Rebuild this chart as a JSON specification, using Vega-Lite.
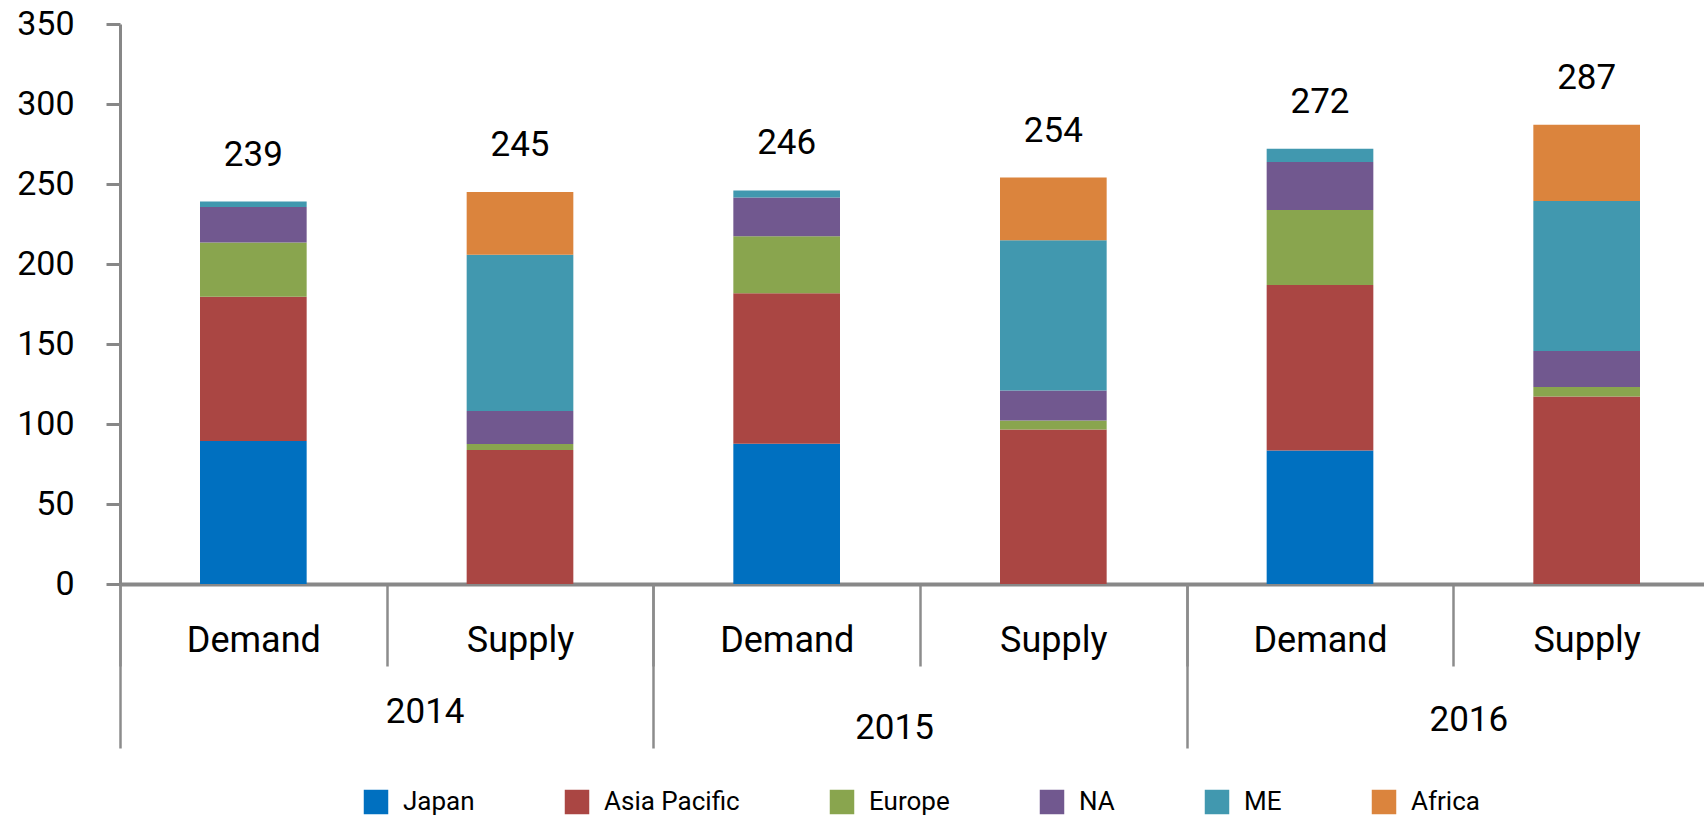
{
  "$schema": "https://vega.github.io/schema/vega-lite/v6.json",
  "width": 1600,
  "height": 560,
  "autosize": {"type": "none"},
  "padding": {"left": 120, "top": 24, "right": -16, "bottom": 233},
  "background": "white",
  "config": {
    "view": {"stroke": null},
    "font": "Roboto",
    "axis": {"grid": false, "labelColor": "black", "labelFont": "Roboto"},
    "legend": {"labelFont": "Roboto"},
    "text": {"font": "Roboto"}
  },
  "data": {
    "values": [
      {"year": "2014", "type": "Demand", "key": "2014 Demand", "region": "Japan", "value": 89.4},
      {"year": "2014", "type": "Demand", "key": "2014 Demand", "region": "Asia Pacific", "value": 90.1},
      {"year": "2014", "type": "Demand", "key": "2014 Demand", "region": "Europe", "value": 33.9},
      {"year": "2014", "type": "Demand", "key": "2014 Demand", "region": "NA", "value": 22.3},
      {"year": "2014", "type": "Demand", "key": "2014 Demand", "region": "ME", "value": 3.3},
      {"year": "2014", "type": "Supply", "key": "2014 Supply", "region": "Asia Pacific", "value": 83.7},
      {"year": "2014", "type": "Supply", "key": "2014 Supply", "region": "Europe", "value": 3.8},
      {"year": "2014", "type": "Supply", "key": "2014 Supply", "region": "NA", "value": 20.6},
      {"year": "2014", "type": "Supply", "key": "2014 Supply", "region": "ME", "value": 97.7},
      {"year": "2014", "type": "Supply", "key": "2014 Supply", "region": "Africa", "value": 39.2},
      {"year": "2015", "type": "Demand", "key": "2015 Demand", "region": "Japan", "value": 87.6},
      {"year": "2015", "type": "Demand", "key": "2015 Demand", "region": "Asia Pacific", "value": 94.1},
      {"year": "2015", "type": "Demand", "key": "2015 Demand", "region": "Europe", "value": 35.7},
      {"year": "2015", "type": "Demand", "key": "2015 Demand", "region": "NA", "value": 24.1},
      {"year": "2015", "type": "Demand", "key": "2015 Demand", "region": "ME", "value": 4.5},
      {"year": "2015", "type": "Supply", "key": "2015 Supply", "region": "Asia Pacific", "value": 96.6},
      {"year": "2015", "type": "Supply", "key": "2015 Supply", "region": "Europe", "value": 5.6},
      {"year": "2015", "type": "Supply", "key": "2015 Supply", "region": "NA", "value": 18.8},
      {"year": "2015", "type": "Supply", "key": "2015 Supply", "region": "ME", "value": 93.8},
      {"year": "2015", "type": "Supply", "key": "2015 Supply", "region": "Africa", "value": 39.2},
      {"year": "2016", "type": "Demand", "key": "2016 Demand", "region": "Japan", "value": 83.5},
      {"year": "2016", "type": "Demand", "key": "2016 Demand", "region": "Asia Pacific", "value": 103.3},
      {"year": "2016", "type": "Demand", "key": "2016 Demand", "region": "Europe", "value": 47.0},
      {"year": "2016", "type": "Demand", "key": "2016 Demand", "region": "NA", "value": 29.9},
      {"year": "2016", "type": "Demand", "key": "2016 Demand", "region": "ME", "value": 8.3},
      {"year": "2016", "type": "Supply", "key": "2016 Supply", "region": "Asia Pacific", "value": 117.2},
      {"year": "2016", "type": "Supply", "key": "2016 Supply", "region": "Europe", "value": 6.0},
      {"year": "2016", "type": "Supply", "key": "2016 Supply", "region": "NA", "value": 22.4},
      {"year": "2016", "type": "Supply", "key": "2016 Supply", "region": "ME", "value": 93.8},
      {"year": "2016", "type": "Supply", "key": "2016 Supply", "region": "Africa", "value": 47.6}
    ]
  },
  "layer": [
    {
      "layer": [
        {
          "transform": [
            {"calculate": "indexof(['Japan','Asia Pacific','Europe','NA','ME','Africa'], datum.region)", "as": "rank"}
          ],
          "mark": {"type": "bar", "width": {"band": 0.4}},
          "encoding": {
            "x": {
              "field": "key",
              "type": "nominal",
              "sort": ["2014 Demand", "2014 Supply", "2015 Demand", "2015 Supply", "2016 Demand", "2016 Supply"],
              "scale": {"paddingInner": 0, "paddingOuter": 0},
              "axis": {
                "orient": "bottom",
                "title": null,
                "labelExpr": "split(datum.label, ' ')[1]",
                "tickBand": "extent",
                "tickSize": 82,
                "tickWidth": 2.5,
                "tickColor": "#8c8c8c",
                "domainColor": "#888888",
                "domainWidth": 4,
                "labelFontSize": 36,
                "labelPadding": -43,
                "labelAngle": 0,
                "labelColor": "black"
              }
            },
            "y": {
              "field": "value",
              "type": "quantitative",
              "stack": "zero",
              "scale": {"domain": [0, 350], "nice": false},
              "axis": {
                "title": null,
                "values": [0, 50, 100, 150, 200, 250, 300, 350],
                "domainColor": "#878787",
                "domainWidth": 3,
                "tickColor": "#878787",
                "tickWidth": 3,
                "tickSize": 14,
                "labelFontSize": 34,
                "labelPadding": 32,
                "labelColor": "black",
                "grid": false
              }
            },
            "order": {"field": "rank", "type": "quantitative", "sort": "ascending"},
            "color": {
              "field": "region",
              "type": "nominal",
              "sort": ["Japan", "Asia Pacific", "Europe", "NA", "ME", "Africa"],
              "scale": {
                "domain": ["Japan", "Asia Pacific", "Europe", "NA", "ME", "Africa"],
                "range": ["#0070C0", "#AA4643", "#89A54E", "#71588F", "#4198AF", "#DB843D"]
              },
              "legend": {
                "orient": "none",
                "legendX": 243,
                "legendY": 765,
                "direction": "horizontal",
                "title": null,
                "symbolType": "square",
                "symbolSize": 600,
                "symbolStrokeWidth": 0,
                "symbolOpacity": 1,
                "labelFontSize": 26,
                "labelOffset": 14,
                "columnPadding": 89,
                "labelColor": "black",
                "labelLimit": 300
              }
            }
          }
        },
        {
          "transform": [
            {"aggregate": [{"op": "sum", "field": "value", "as": "total"}], "groupby": ["key"]}
          ],
          "mark": {"type": "text", "dy": -36, "baseline": "alphabetic", "fontSize": 35, "color": "black"},
          "encoding": {
            "x": {
              "field": "key",
              "type": "nominal",
              "sort": ["2014 Demand", "2014 Supply", "2015 Demand", "2015 Supply", "2016 Demand", "2016 Supply"]
            },
            "y": {"field": "total", "type": "quantitative", "title": null},
            "text": {"field": "total", "type": "quantitative", "format": ".0f"}
          }
        }
      ]
    },
    {
      "mark": {"type": "text", "opacity": 0},
      "encoding": {
        "x": {
          "field": "year",
          "type": "nominal",
          "scale": {"paddingInner": 0, "paddingOuter": 0},
          "axis": {
            "orient": "bottom",
            "title": null,
            "tickBand": "extent",
            "tickSize": 164,
            "tickWidth": 2.5,
            "tickColor": "#8c8c8c",
            "domain": false,
            "labelFontSize": 35,
            "labelAngle": 0,
            "labelColor": "black",
            "labelOffset": {
              "condition": [
                {"test": "datum.value == '2014'", "value": 38},
                {"test": "datum.value == '2015'", "value": -26}
              ],
              "value": 15
            },
            "labelPadding": {
              "condition": [
                {"test": "datum.value == '2014'", "value": -54},
                {"test": "datum.value == '2015'", "value": -38}
              ],
              "value": -46
            }
          }
        },
        "text": {"value": ""}
      }
    }
  ],
  "resolve": {"scale": {"x": "independent"}, "axis": {"x": "independent"}}
}
